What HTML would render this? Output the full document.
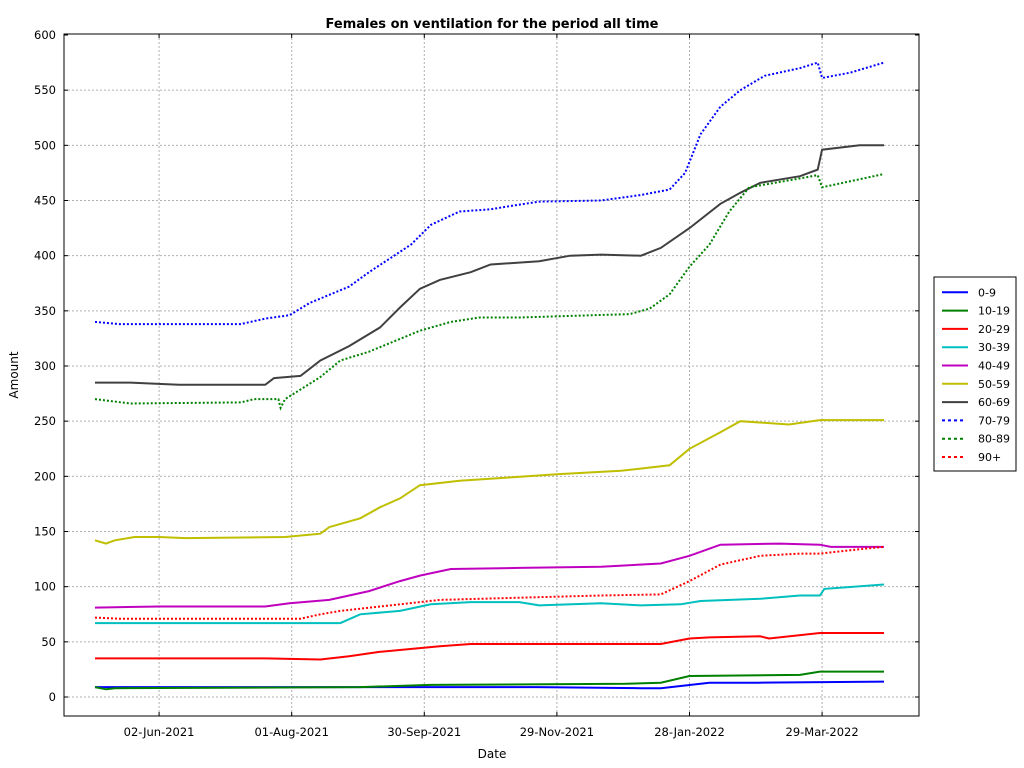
<!DOCTYPE html>
<html><head><meta charset="utf-8"><style>
html,body{margin:0;padding:0;background:#fff;}
svg{display:block;font-family:"DejaVu Sans","Liberation Sans",sans-serif;}
</style></head><body>
<svg id="chart" width="1024" height="768" xmlns="http://www.w3.org/2000/svg"></svg>
<script>
// Day offsets are counted from 2021-05-04
const tickLabels = ["02-Jun-2021","01-Aug-2021","30-Sep-2021","29-Nov-2021","28-Jan-2022","29-Mar-2022"];
const tickDays = [29,89,149,209,269,329];
const yTicks = [0,50,100,150,200,250,300,350,400,450,500,550,600];
const seriesNames = ["0-9","10-19","20-29","30-39","40-49","50-59","60-69","70-79","80-89","90+"];
const seriesColors = ["#0000ff","#008000","#ff0000","#00bfbf","#bf00bf","#bfbf00","#404040","#0000ff","#008000","#ff0000"];
const seriesDashed = [false,false,false,false,false,false,false,true,true,true];

const d0 = [0,100,200,247,256,278,300,357];
const v0 = [9,9,9,8,8,13,13,14];
const d1 = [0,5,9,120,152,240,256,269,319,328,357];
const v1 = [9,7,8,9,11,12,13,19,20,23,23];
const d2 = [0,77,102,115,129,156,170,256,269,278,301,305,328,357];
const v2 = [35,35,34,37,41,46,48,48,53,54,55,53,58,58];
const d3 = [0,111,120,138,152,170,192,201,229,247,265,274,301,319,328,330,357];
const v3 = [67,67,75,78,84,86,86,83,85,83,84,87,89,92,92,98,102];
const d4 = [0,29,77,88,106,124,138,147,161,192,229,256,269,283,310,328,333,357];
const v4 = [81,82,82,85,88,96,105,110,116,117,118,121,128,138,139,138,136,136];
const d5 = [0,5,9,18,29,41,86,102,106,120,129,138,147,165,188,210,238,260,269,283,292,314,328,357];
const v5 = [142,139,142,145,145,144,145,148,154,162,172,180,192,196,199,202,205,210,225,240,250,247,251,251];
const d6 = [0,16,38,77,81,93,102,115,129,138,147,156,170,179,201,215,229,247,256,269,283,292,301,319,327,329,346,357];
const v6 = [285,285,283,283,289,291,305,318,335,353,370,378,385,392,395,400,401,400,407,425,447,457,466,472,478,496,500,500];
const d7 = [0,11,29,66,77,88,97,115,124,143,152,165,179,188,201,229,247,260,267,274,283,292,303,319,327,329,342,357];
const v7 = [340,338,338,338,343,346,357,372,385,410,428,440,442,445,449,450,455,460,475,510,535,550,563,570,575,561,566,575];
const d8 = [0,16,66,72,83,84,86,102,111,124,147,161,174,192,242,251,260,269,278,287,296,319,327,329,357];
const v8 = [270,266,267,270,270,262,270,290,305,313,332,340,344,344,347,352,365,390,410,440,462,470,473,462,474];
const d9 = [0,11,77,93,102,111,138,156,192,229,256,269,283,301,319,328,346,357];
const v9 = [72,71,71,71,75,78,84,88,90,92,93,105,120,128,130,130,134,136];

const seriesDays = [d0,d1,d2,d3,d4,d5,d6,d7,d8,d9];
const seriesVals = [v0,v1,v2,v3,v4,v5,v6,v7,v8,v9];

const NS = "http://www.w3.org/2000/svg";
const svg = document.getElementById('chart');
const PL=64, PR=919, PT=34, PB=716;
const xOf = d => 95 + d*2.21;
const yOf = v => 697 - v*(662/600);
function mk(tag, attrs, parent){
  const e=document.createElementNS(NS,tag);
  for(const k in attrs) e.setAttribute(k,attrs[k]);
  (parent||svg).appendChild(e); return e;
}
const grid = mk('g',{});


yTicks.forEach(v=>{
  if(v<600) mk('line',{x1:PL,x2:PR,y1:yOf(v),y2:yOf(v),stroke:'#b0b0b0','stroke-dasharray':'2,2','stroke-width':1},grid);
  mk('line',{x1:PL,x2:PL+4,y1:yOf(v),y2:yOf(v),stroke:'#000'},grid);
  mk('line',{x1:PR-4,x2:PR,y1:yOf(v),y2:yOf(v),stroke:'#000'},grid);
  const t=mk('text',{x:PL-8,y:yOf(v)+4,'text-anchor':'end','font-size':11.5,fill:'#000'});
  
  
  t.textContent=v;
});
tickDays.forEach((d,i)=>{
  mk('line',{x1:xOf(d),x2:xOf(d),y1:PT,y2:PB,stroke:'#b0b0b0','stroke-dasharray':'2,2','stroke-width':1},grid);
  mk('line',{x1:xOf(d),x2:xOf(d),y1:PB-4,y2:PB,stroke:'#000'},grid);
  mk('line',{x1:xOf(d),x2:xOf(d),y1:PT,y2:PT+4,stroke:'#000'},grid);
  const t=mk('text',{x:xOf(d),y:736,'text-anchor':'middle','font-size':11.5,fill:'#000'});
  
  
  t.textContent=tickLabels[i];
});
const frame=mk('rect',{x:PL,y:PT,width:PR-PL,height:PB-PT,fill:'none',stroke:'#000'});


seriesNames.forEach((n,i)=>{
  const ds=seriesDays[i], vs=seriesVals[i];
  const pts=ds.map((d,k)=>xOf(d).toFixed(1)+','+yOf(vs[k]).toFixed(1));
  const p=mk('polyline',{points:pts.join(' '),fill:'none',stroke:seriesColors[i],'stroke-width':2});
  if(seriesDashed[i]) p.setAttribute('stroke-dasharray','2,2');
  
  
});
const title=mk('text',{x:492,y:28,'text-anchor':'middle','font-size':13,'font-weight':'bold',fill:'#000'});


title.textContent='Females on ventilation for the period all time';
const xt=mk('text',{x:492,y:758,'text-anchor':'middle','font-size':12,fill:'#000'});


xt.textContent='Date';
const yt=mk('text',{x:18,y:375,'text-anchor':'middle','font-size':12,fill:'#000',transform:'rotate(-90 18 375)'});


yt.textContent='Amount';
const lg=mk('g',{});


mk('rect',{x:934,y:277,width:82,height:194,fill:'#fff',stroke:'#000'},lg);
seriesNames.forEach((n,i)=>{
  const y=292.3+i*18.3;
  const e=mk('g',{},lg);
  
  
  const l=mk('line',{x1:942,x2:968,y1:y,y2:y,stroke:seriesColors[i],'stroke-width':2},e);
  if(seriesDashed[i]){ l.setAttribute('stroke-dasharray','3,3'); l.setAttribute('x2',964); }
  const t=mk('text',{x:978,y:y+4,'font-size':11,fill:'#000'},e);
  t.textContent=n;
});
</script>
</body></html>
